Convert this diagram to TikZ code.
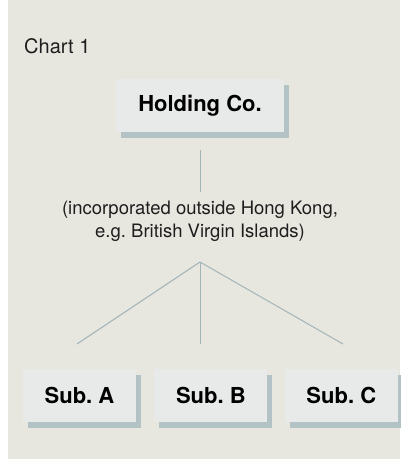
\documentclass[tikz,border=0pt]{standalone}
\usepackage{fontspec}
\setmainfont{TeX Gyre Heros}
\usetikzlibrary{positioning, shadows}
\definecolor{sfondo}{HTML}{E7E6DF}
\definecolor{scatola}{HTML}{E8EAE9}
\definecolor{ombra}{HTML}{B3C2C5}
\definecolor{linea}{HTML}{A3B5B8}
\definecolor{testo}{HTML}{1E1E1E}
\frenchspacing
\begin{document}
\begin{tikzpicture}[x=1pt, y=-1pt,
		societa/.style={rectangle, fill=scatola, inner sep=0pt, minimum height=53pt,
			font=\fontsize{22}{26}\selectfont\bfseries,
			drop shadow={shadow xshift=5pt, shadow yshift=-6pt, fill=ombra, opacity=1}},
		ramo/.style={draw=linea, line width=1pt}]
	% Sfondo
	\useasboundingbox (0,0) rectangle (400,459);
	\fill[sfondo] (8,0) rectangle (400,459);
	
	% Titolo e holding
	\node[anchor=base west, inner sep=0pt, text=testo, font=\fontsize{20}{24}\selectfont] (titolo) at (24,53) {Chart 1};
	\node[societa, minimum width=168pt] (holding) at (200,105.5) {Holding Co.};
	\node[align=center, text=testo, font=\fontsize{18.5}{23}\selectfont] (nota) at (200,221)
		{(incorporated outside Hong Kong,\\e.g. British Virgin Islands)};
	
	% Controllate
	\node[societa, minimum width=113pt] (subA) at (79.5,395.5) {Sub. A};
	\node[societa, minimum width=113pt, right=18pt of subA] (subB) {Sub. B};
	\node[societa, minimum width=113pt, right=17pt of subB] (subC) {Sub. C};
	
	% Linee
	\coordinate (su) at (200,150);
	\coordinate (giu) at (200,192);
	\coordinate (vertice) at (200,262);
	\coordinate (fineA) at (77,344);
	\coordinate (fineB) at (200,344);
	\coordinate (fineC) at (343,344);
	
	\draw[ramo] (su) -- (giu);
	\draw[ramo] (vertice) -- (fineA);
	\draw[ramo] (vertice) -- (fineB);
	\draw[ramo] (vertice) -- (fineC);
\end{tikzpicture}
\end{document}
